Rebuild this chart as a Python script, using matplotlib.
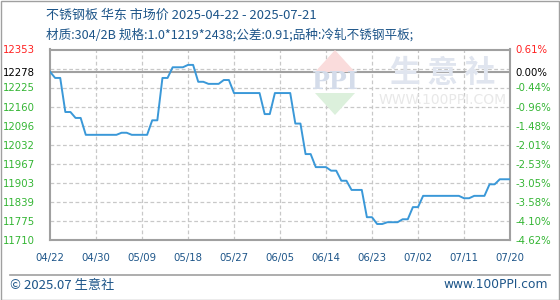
import numpy as np
import matplotlib
matplotlib.use("Agg")
import matplotlib.pyplot as plt
from matplotlib.patches import Polygon, Rectangle

# data (one value per point, 04/22 .. 07/21)
prices = [12278, 12257, 12257, 12142, 12142, 12122, 12122,
          12065, 12065, 12065, 12065, 12065, 12065, 12065,
          12072, 12072, 12065, 12065, 12065, 12065,
          12114, 12114, 12257, 12257, 12293, 12293, 12293,
          12301, 12301, 12244, 12244, 12237, 12237, 12237,
          12250, 12250, 12206, 12206, 12206, 12206, 12206, 12206,
          12135, 12135, 12206, 12206, 12206, 12206,
          12103, 12103, 12000, 12000, 11956, 11956, 11956,
          11944, 11944, 11910, 11910, 11879, 11879, 11879,
          11787, 11787, 11764, 11764, 11770, 11770, 11770,
          11780, 11780, 11821, 11821, 11859, 11859, 11859, 11859,
          11859, 11859, 11859, 11859, 11851, 11851,
          11859, 11859, 11859, 11898, 11898, 11915, 11915, 11915]
date_labels = ["04/22", "04/30", "05/09", "05/18", "05/27", "06/05",
               "06/14", "06/23", "07/02", "07/11", "07/20"]
base_price = 12278
y_min, y_max = 11710, 12353
left_values = [12353, 12278, 12225, 12160, 12096, 12032, 11967, 11903, 11839, 11775, 11710]
left_labels = ["12353", "12278", "12225", "12160", "12096", "12032",
               "11967", "11903", "11839", "11775", "11710"]
right_labels = ["0.61%", "0.00%", "-0.44%", "-0.96%", "-1.48%", "-2.01%",
                "-2.53%", "-3.05%", "-3.58%", "-4.10%", "-4.62%"]

CJK = ["Noto Sans CJK SC", "DejaVu Sans"]
RED = "#ff2020"
GREEN = "#33b533"
BLUE_TXT = "#1d5589"

fig = plt.figure(figsize=(5.6, 3.0), dpi=100)
W, H = 560, 300

# outer border and footer separator
fig.patches.append(Rectangle((0.5 / W, 0.5 / H), 1 - 1.5 / W, 1 - 1.5 / H,
                             transform=fig.transFigure, fill=False,
                             ec="#a0a0a0", lw=1))
fig.add_artist(plt.Line2D([10 / W, 550 / W], [1 - 275 / H, 1 - 275 / H],
                          color="#a0a0a0", lw=1.2))

# watermark
red_tri = Polygon([[315 / W, 1 - 72 / H], [355 / W, 1 - 72 / H], [335 / W, 1 - 50 / H]],
                  closed=True, transform=fig.transFigure, fc="#fadcdc", ec="none")
grn_tri = Polygon([[315 / W, 1 - 93 / H], [355 / W, 1 - 93 / H], [335 / W, 1 - 115 / H]],
                  closed=True, transform=fig.transFigure, fc="#dcf0dc", ec="none")
fig.patches.extend([red_tri, grn_tri])
fig.text(335 / W, 1 - 82 / H, "PPI", ha="center", va="center", fontsize=17,
         family="DejaVu Serif", color="#d4dcea", weight="bold")
fig.text(443 / W, 1 - 73 / H, "生 意 社", ha="center", va="center", fontsize=22,
         family=CJK, color="#e0e5ef", weight="bold")
fig.text(443 / W, 1 - 100 / H, "WWW.100PPI.COM", ha="center", va="center",
         fontsize=10, family="DejaVu Sans", color="#e8e8e8")

ax = fig.add_axes([50 / W, 60 / H, 460 / W, 190.5 / H])
ax.patch.set_alpha(0)
x = np.arange(len(prices))
n_last = len(prices) - 1

# grid
for g in np.linspace(y_min, y_max, 11)[1:-1]:
    ax.axhline(g, color="#c8c8c8", lw=0.9, ls=(0, (3, 2)), zorder=1)
tick_pos = np.arange(0, n_last + 1, 9)
for t in tick_pos[1:-1]:
    ax.axvline(t, color="#c8c8c8", lw=0.9, ls=(0, (3, 2)), zorder=1)
ax.axhline(base_price, color="#a0a0a0", lw=1.5, zorder=2)

ax.plot(x, prices, color="#3a98d8", lw=1.4, zorder=3)

ax.set_xlim(0, n_last)
ax.set_ylim(y_min, y_max)
for s in ax.spines.values():
    s.set_color("#a0a0a0")
    s.set_linewidth(1.5)

ax.set_xticks(tick_pos)
ax.set_xticklabels(date_labels)
ax.tick_params(axis="x", length=0, pad=9, labelsize=7.3, labelcolor=BLUE_TXT)
ax.set_yticks(left_values)
ax.set_yticklabels(left_labels)
ax.tick_params(axis="y", length=0, pad=11, labelsize=7.3)
label_colors = [RED, "black"] + [GREEN] * (len(left_values) - 2)
for lab, c in zip(ax.get_yticklabels(), label_colors):
    lab.set_color(c)

ax2 = ax.twinx()
ax2.set_ylim(y_min, y_max)
ax2.set_yticks(left_values)
ax2.set_yticklabels(right_labels)
ax2.tick_params(axis="y", length=0, pad=4, labelsize=7.3)
for lab, c in zip(ax2.get_yticklabels(), label_colors):
    lab.set_color(c)
for s in ax2.spines.values():
    s.set_visible(False)

# titles
fig.text(46 / W, 1 - 15 / H, "不锈钢板 华东 市场价 2025-04-22 - 2025-07-21",
         ha="left", va="center", fontsize=9.4, family=CJK, color=BLUE_TXT)
fig.text(46 / W, 1 - 35 / H, "材质:304/2B 规格:1.0*1219*2438;公差:0.91;品种:冷轧不锈钢平板;",
         ha="left", va="center", fontsize=9.1, family=CJK, color=BLUE_TXT)

# footer
fig.text(10 / W, 1 - 285 / H, "© 2025.07 生意社", ha="left", va="center",
         fontsize=9.5, family=CJK, color=BLUE_TXT)
fig.text(548 / W, 1 - 285 / H, "www.100PPI.com", ha="right", va="center",
         fontsize=8.8, family="DejaVu Sans", color=BLUE_TXT)

fig.savefig("out.png", dpi=100)
